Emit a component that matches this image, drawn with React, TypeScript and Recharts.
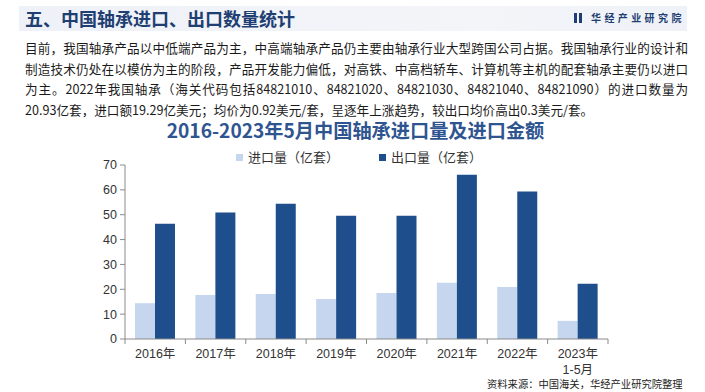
import React from "react";
import { BarChart, Bar, XAxis, YAxis, CartesianGrid } from "recharts";

const years = ["2016年", "2017年", "2018年", "2019年", "2020年", "2021年", "2022年", "2023年\n1-5月"];
const importVolume = [14.4, 17.7, 18.1, 16.1, 18.5, 22.6, 20.93, 7.3];
const exportVolume = [46.4, 50.9, 54.4, 49.6, 49.6, 66.1, 59.3, 22.2];
const yTicks = [0, 10, 20, 30, 40, 50, 60, 70];

const paragraphLines = [
    "目前，我国轴承产品以中低端产品为主，中高端轴承产品仍主要由轴承行业大型跨国公司占据。我国轴承行业的设计和",
    "制造技术仍处在以模仿为主的阶段，产品开发能力偏低，对高铁、中高档轿车、计算机等主机的配套轴承主要仍以进口",
    "为主。2022年我国轴承（海关代码包括84821010、84821020、84821030、84821040、84821090）的进口数量为",
    "20.93亿套，进口额19.29亿美元；均价为0.92美元/套，呈逐年上涨趋势，较出口均价高出0.3美元/套。",
];

const LIGHT = "#c5d6ee";
const DARK = "#1f4e8c";
const AXIS = "#8a8a8a";

const chartData = years.map((year, i) => ({
    year,
    importVolume: importVolume[i],
    exportVolume: exportVolume[i],
}));

const PLOT_LEFT = 125;
const PLOT_RIGHT = 608;
const BAND = (PLOT_RIGHT - PLOT_LEFT) / years.length;

function YearTick(props: any) {
    const { x, y, payload, index } = props;
    const lines = String(payload.value).split("\n");
    const axisY = y - 8;
    return (
        <g>
            <line x1={x - BAND / 2} x2={x - BAND / 2} y1={axisY} y2={axisY + 5} stroke={AXIS} />
            {index === years.length - 1 && (
                <line x1={x + BAND / 2} x2={x + BAND / 2} y1={axisY} y2={axisY + 5} stroke={AXIS} />
            )}
            <text
                x={x}
                y={y}
                textAnchor="middle"
                fill="#333"
                fontSize={12.5}
                fontFamily="'Liberation Sans', 'Noto Sans CJK SC', sans-serif"
            >
                {lines.map((l, i) => (
                    <tspan key={i} x={x} dy={i === 0 ? 11 : 16}>
                        {l}
                    </tspan>
                ))}
            </text>
        </g>
    );
}

export default function App() {
    const cjk = "'Noto Sans CJK SC', 'Liberation Sans', sans-serif";

    return (
        <div
            style={{
                position: "absolute",
                left: 0,
                top: 0,
                width: 705,
                height: 392,
                background: "#fff",
                overflow: "hidden",
                fontFamily: cjk,
            }}
        >
            <div
                style={{
                    position: "absolute",
                    left: 19,
                    top: 6,
                    width: 668,
                    height: 25,
                    background: "linear-gradient(90deg, #eef1f7 0%, #f3f5f9 70%, #eef1f7 100%)",
                }}
            />
            <div
                style={{
                    position: "absolute",
                    left: 25,
                    top: 4,
                    fontSize: 18,
                    fontWeight: 700,
                    color: "#1f3f73",
                    lineHeight: "28px",
                    whiteSpace: "nowrap",
                }}
            >
                五、中国轴承进口、出口数量统计
            </div>
            <div
                style={{
                    position: "absolute",
                    left: 574,
                    top: 13,
                    width: 3,
                    height: 10,
                    background: "#1f3f73",
                    boxShadow: "5px 0 0 #1f3f73",
                }}
            />
            <div
                style={{
                    position: "absolute",
                    left: 591,
                    top: 9,
                    fontSize: 10,
                    fontWeight: 700,
                    color: "#1f3f73",
                    letterSpacing: 3.4,
                    lineHeight: "18px",
                    whiteSpace: "nowrap",
                }}
            >
                华经产业研究院
            </div>

            <div style={{ position: "absolute", left: 25, top: 38, width: 663, color: "#1a1a1a" }}>
                {paragraphLines.map((line, i) => (
                    <div
                        key={i}
                        style={{
                            fontSize: 12.6,
                            lineHeight: "20.5px",
                            whiteSpace: "nowrap",
                            textAlign: i < 3 ? "justify" : "left",
                            textAlignLast: i < 3 ? "justify" : "left",
                            width: i < 3 ? 663 : undefined,
                        }}
                    >
                        {line}
                    </div>
                ))}
            </div>

            <div
                style={{
                    position: "absolute",
                    left: 0,
                    width: 705,
                    top: 118,
                    textAlign: "center",
                    fontSize: 19.2,
                    fontWeight: 700,
                    color: "#2f5591",
                    lineHeight: "25px",
                    paddingLeft: 3,
                }}
            >
                2016-2023年5月中国轴承进口量及进口金额
            </div>

            <div
                style={{
                    position: "absolute",
                    top: 149,
                    left: 236,
                    display: "flex",
                    alignItems: "center",
                    fontSize: 13,
                    color: "#333",
                    lineHeight: "16px",
                }}
            >
                <span style={{ width: 7, height: 7, background: LIGHT, marginRight: 5 }} />
                <span style={{ width: 131 }}>进口量（亿套）</span>
                <span style={{ width: 7, height: 7, background: DARK, marginRight: 5 }} />
                <span>出口量（亿套）</span>
            </div>

            <div style={{ position: "absolute", left: 0, top: 0 }}>
                <BarChart
                    width={705}
                    height={392}
                    data={chartData}
                    margin={{ top: 165, right: 97, bottom: 23, left: 85 }}
                    barCategoryGap={10}
                    barGap={0}
                >
                    <CartesianGrid horizontal={false} vertical={false} />
                    <XAxis
                        dataKey="year"
                        height={30}
                        interval={0}
                        stroke={AXIS}
                        tickLine={false}
                        tick={<YearTick />}
                    />
                    <YAxis
                        width={40}
                        domain={[0, 70]}
                        ticks={yTicks}
                        interval={0}
                        stroke={AXIS}
                        tickSize={5}
                        tickMargin={3}
                        tick={{ fill: "#333", fontSize: 12.5, fontFamily: "'Liberation Sans', sans-serif" }}
                    />
                    <Bar dataKey="importVolume" fill={LIGHT} isAnimationActive={false} />
                    <Bar dataKey="exportVolume" fill={DARK} isAnimationActive={false} />
                </BarChart>
            </div>

            <div
                style={{
                    position: "absolute",
                    left: 487,
                    top: 377,
                    fontSize: 10.3,
                    color: "#222",
                    lineHeight: "14px",
                    whiteSpace: "nowrap",
                }}
            >
                资料来源：中国海关，华经产业研究院整理
            </div>
        </div>
    );
}
